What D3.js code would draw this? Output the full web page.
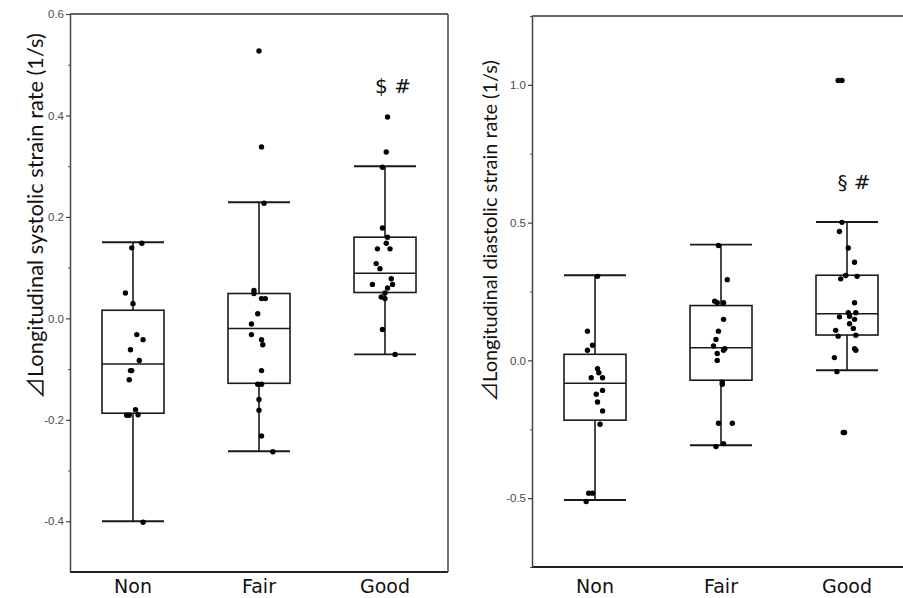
<!DOCTYPE html>
<html><head><meta charset="utf-8">
<script src="https://cdn.jsdelivr.net/npm/d3@7/dist/d3.min.js"></script>
<style>body{margin:0;background:#fff}svg{display:block}</style>
</head><body>
<svg id="c" width="903" height="598"></svg>
<script>
// ---------- data ----------
const categories = ["Non", "Fair", "Good"];

// Left panel: systolic strain rate
const sysTicks = [-0.4, -0.2, 0.0, 0.2, 0.4, 0.6];
const sysMinorTicks = [-0.3, -0.1, 0.1, 0.3, 0.5];
const sysWhiskerLow = [-0.40, -0.262, -0.071];
const sysQ1 = [-0.187, -0.128, 0.051];
const sysMedian = [-0.09, -0.02, 0.089];
const sysQ3 = [0.016, 0.049, 0.16];
const sysWhiskerHigh = [0.15, 0.229, 0.30];
const sysNon = [0.148, 0.139, 0.05, 0.029, -0.032, -0.042, -0.062, -0.083, -0.103, -0.103, -0.121, -0.18, -0.191, -0.191, -0.19, -0.402];
const sysFair = [0.527, 0.338, 0.227, 0.055, 0.049, 0.039, 0.039, 0.009, -0.011, -0.032, -0.042, -0.052, -0.103, -0.13, -0.13, -0.16, -0.181, -0.232, -0.263];
const sysGood = [0.397, 0.328, 0.298, 0.178, 0.16, 0.148, 0.137, 0.137, 0.108, 0.098, 0.078, 0.067, 0.067, 0.06, 0.05, 0.042, 0.039, -0.022, -0.071];
// horizontal jitter of each dot, as a fraction of the category band
const sysNonJitter = [0.07, -0.01, -0.06, 0, 0.03, 0.08, -0.02, 0.05, -0.02, -0.01, -0.03, 0.02, -0.05, -0.03, 0.04, 0.08];
const sysFairJitter = [0, 0.02, 0.04, -0.04, -0.04, 0.02, 0.05, -0.01, -0.06, -0.06, 0.02, 0.03, 0.02, -0.01, 0.02, 0, 0, 0.02, 0.11];
const sysGoodJitter = [0.02, 0.01, -0.02, -0.02, 0.02, 0.01, -0.06, 0.04, -0.07, -0.04, 0.05, -0.10, 0.06, 0.02, 0, -0.03, 0, -0.02, 0.08];
const sysAnnotation = "$ #";
const sysAnnotationValue = 0.458;

// Right panel: diastolic strain rate
const diaTicks = [-0.5, 0.0, 0.5, 1.0];
const diaMinorTicks = [-0.75, -0.25, 0.25, 0.75, 1.25];
const diaWhiskerLow = [-0.507, -0.308, -0.036];
const diaQ1 = [-0.217, -0.072, 0.092];
const diaMedian = [-0.083, 0.046, 0.169];
const diaQ3 = [0.022, 0.199, 0.309];
const diaWhiskerHigh = [0.309, 0.42, 0.502];
const diaNon = [0.305, 0.106, 0.055, 0.037, -0.03, -0.045, -0.063, -0.063, -0.109, -0.123, -0.151, -0.184, -0.232, -0.482, -0.482, -0.512];
const diaFair = [0.417, 0.293, 0.215, 0.209, 0.209, 0.149, 0.106, 0.076, 0.052, 0.042, 0.037, 0.025, 0.0, -0.079, -0.087, -0.228, -0.228, -0.302, -0.313];
const diaGood = [1.016, 1.016, 0.501, 0.468, 0.408, 0.356, 0.308, 0.296, 0.305, 0.209, 0.173, 0.173, 0.158, 0.16, 0.149, 0.133, 0.116, 0.109, 0.088, 0.091, 0.042, 0.037, 0.01, -0.041, -0.262, -0.262];
const diaNonJitter = [0.02, -0.06, -0.02, -0.06, 0.02, 0.03, -0.03, 0.06, 0.06, 0.01, 0.02, 0.06, 0.04, -0.05, -0.02, -0.07];
const diaFairJitter = [-0.02, 0.05, -0.05, 0.02, -0.03, 0.02, -0.02, -0.04, -0.06, 0.03, 0.02, -0.03, -0.03, 0.01, 0.01, -0.02, 0.09, 0.02, -0.04];
const diaGoodJitter = [-0.07, -0.04, -0.04, -0.06, 0.01, 0.06, -0.01, -0.05, 0.08, 0.06, 0.01, 0.07, -0.06, 0.02, 0.06, 0.02, 0.05, -0.09, -0.07, 0.07, 0.06, 0.07, -0.10, -0.08, -0.03, -0.02];
const diaAnnotation = "§ #";
const diaAnnotationValue = 0.646;

const labelDelta = "⊿";
const sysLabel = "Longitudinal systolic strain rate (1/s)";
const diaLabel = "Longitudinal diastolic strain rate (1/s)";

// ---------- drawing ----------
const svg = d3.select("#c");
const INK = "#1a1a1a";

function panel(cfg) {
  const x = d3.scaleBand().domain(categories).range(cfg.xRange).paddingInner(0).paddingOuter(0);
  const y = d3.scaleLinear().domain(cfg.yDomain).range(cfg.yRange);
  const g = svg.append("g");
  const x0 = cfg.xRange[0], x1 = cfg.xRange[1];
  const yTop = cfg.yRange[1], yBot = cfg.yRange[0];

  // frame
  g.append("line").attr("x1", x0).attr("x2", x1).attr("y1", yTop).attr("y2", yTop)
    .attr("stroke", "#333").attr("stroke-width", 1.5);
  g.append("line").attr("x1", x0).attr("x2", x1).attr("y1", yBot).attr("y2", yBot)
    .attr("stroke", "#222").attr("stroke-width", 1.8);
  if (cfg.rightBorder) {
    g.append("line").attr("x1", x1).attr("x2", x1).attr("y1", yTop).attr("y2", yBot)
      .attr("stroke", "#444").attr("stroke-width", 1.5);
  }

  // minor ticks
  const minor = g.append("g").attr("transform", `translate(${x0},0)`)
    .call(d3.axisLeft(y).tickValues(cfg.minorTicks).tickSize(2).tickSizeOuter(0).tickFormat(""));
  minor.select(".domain").remove();
  minor.selectAll("line").attr("stroke", "#555");

  // major axis
  const ax = g.append("g").attr("transform", `translate(${x0},0)`)
    .call(d3.axisLeft(y).tickValues(cfg.ticks).tickSize(4).tickSizeOuter(0).tickPadding(2).tickFormat(d => d.toFixed(1)));
  ax.select(".domain").attr("stroke", "#444").attr("stroke-width", 1.5);
  ax.selectAll(".tick line").attr("stroke", "#444").attr("stroke-width", 1.2);
  ax.selectAll(".tick text").attr("font-family", "'Liberation Sans Narrow', 'Arial Narrow', sans-serif")
    .attr("font-size", 11.5).attr("fill", "#4a4a4a");

  const bw = x.bandwidth() * 0.492;
  const cx = c => x(c) + x.bandwidth() / 2;

  // boxes
  categories.forEach((c, i) => {
    const b = g.append("g").attr("stroke", INK).attr("stroke-width", 1.6).attr("fill", "none");
    b.append("line").attr("x1", cx(c)).attr("x2", cx(c)).attr("y1", y(cfg.q3[i])).attr("y2", y(cfg.wHigh[i]));
    b.append("line").attr("x1", cx(c)).attr("x2", cx(c)).attr("y1", y(cfg.q1[i])).attr("y2", y(cfg.wLow[i]));
    b.append("line").attr("x1", cx(c) - bw / 2).attr("x2", cx(c) + bw / 2).attr("y1", y(cfg.wHigh[i])).attr("y2", y(cfg.wHigh[i])).attr("stroke-width", 1.9);
    b.append("line").attr("x1", cx(c) - bw / 2).attr("x2", cx(c) + bw / 2).attr("y1", y(cfg.wLow[i])).attr("y2", y(cfg.wLow[i])).attr("stroke-width", 1.9);
    b.append("rect").attr("x", cx(c) - bw / 2).attr("width", bw)
      .attr("y", y(cfg.q3[i])).attr("height", y(cfg.q1[i]) - y(cfg.q3[i]));
    b.append("line").attr("x1", cx(c) - bw / 2).attr("x2", cx(c) + bw / 2).attr("y1", y(cfg.med[i])).attr("y2", y(cfg.med[i]));
  });

  // points
  categories.forEach((c, i) => {
    const vals = cfg.points[i], jit = cfg.jitter[i];
    g.append("g").selectAll("circle").data(vals).join("circle")
      .attr("cx", (d, k) => cx(c) + jit[k] * x.bandwidth())
      .attr("cy", d => y(d))
      .attr("r", 2.7).attr("fill", "#000");
  });

  // category labels
  g.append("g").selectAll("text").data(categories).join("text")
    .attr("x", d => cx(d)).attr("y", yBot + cfg.labelGap)
    .attr("text-anchor", "middle").attr("font-family", "'DejaVu Sans', sans-serif")
    .attr("font-size", 19).attr("fill", "#111").text(d => d);

  // annotation
  g.append("text").attr("x", cx("Good") + cfg.annotDx).attr("y", y(cfg.annotValue))
    .attr("dy", "0.35em").attr("text-anchor", "middle")
    .attr("font-family", "'DejaVu Sans', sans-serif").attr("font-size", 20).attr("fill", "#111")
    .text(cfg.annot);

  // y label, font size fitted to the span seen in the reference
  const t = g.append("text").attr("transform", `translate(${cfg.labelX},${cfg.labelY}) rotate(-90)`)
    .attr("text-anchor", "middle").attr("dy", "0.35em")
    .attr("font-family", "Lato, 'Open Sans', sans-serif").attr("font-size", 20).attr("fill", "#111");
  t.append("tspan").attr("font-family", "'Noto Sans CJK JP', 'DejaVu Sans', sans-serif").text(labelDelta);
  t.append("tspan").text(cfg.label);
  const len = t.node().getComputedTextLength();
  t.attr("font-size", 20 * cfg.labelLen / len);
}

panel({
  xRange: [70, 448], yDomain: [-0.5, 0.6], yRange: [572, 14], rightBorder: true,
  ticks: sysTicks, minorTicks: sysMinorTicks,
  wLow: sysWhiskerLow, q1: sysQ1, med: sysMedian, q3: sysQ3, wHigh: sysWhiskerHigh,
  points: [sysNon, sysFair, sysGood], jitter: [sysNonJitter, sysFairJitter, sysGoodJitter],
  annot: sysAnnotation, annotValue: sysAnnotationValue, annotDx: 8,
  label: sysLabel, labelX: 35, labelY: 216, labelLen: 366, labelGap: 21
});
panel({
  xRange: [532, 910], yDomain: [-0.75, 1.25], yRange: [567, 16], rightBorder: false,
  ticks: diaTicks, minorTicks: diaMinorTicks,
  wLow: diaWhiskerLow, q1: diaQ1, med: diaMedian, q3: diaQ3, wHigh: diaWhiskerHigh,
  points: [diaNon, diaFair, diaGood], jitter: [diaNonJitter, diaFairJitter, diaGoodJitter],
  annot: diaAnnotation, annotValue: diaAnnotationValue, annotDx: 7,
  label: diaLabel, labelX: 490, labelY: 231, labelLen: 342, labelGap: 26
});
</script>
</body></html>
